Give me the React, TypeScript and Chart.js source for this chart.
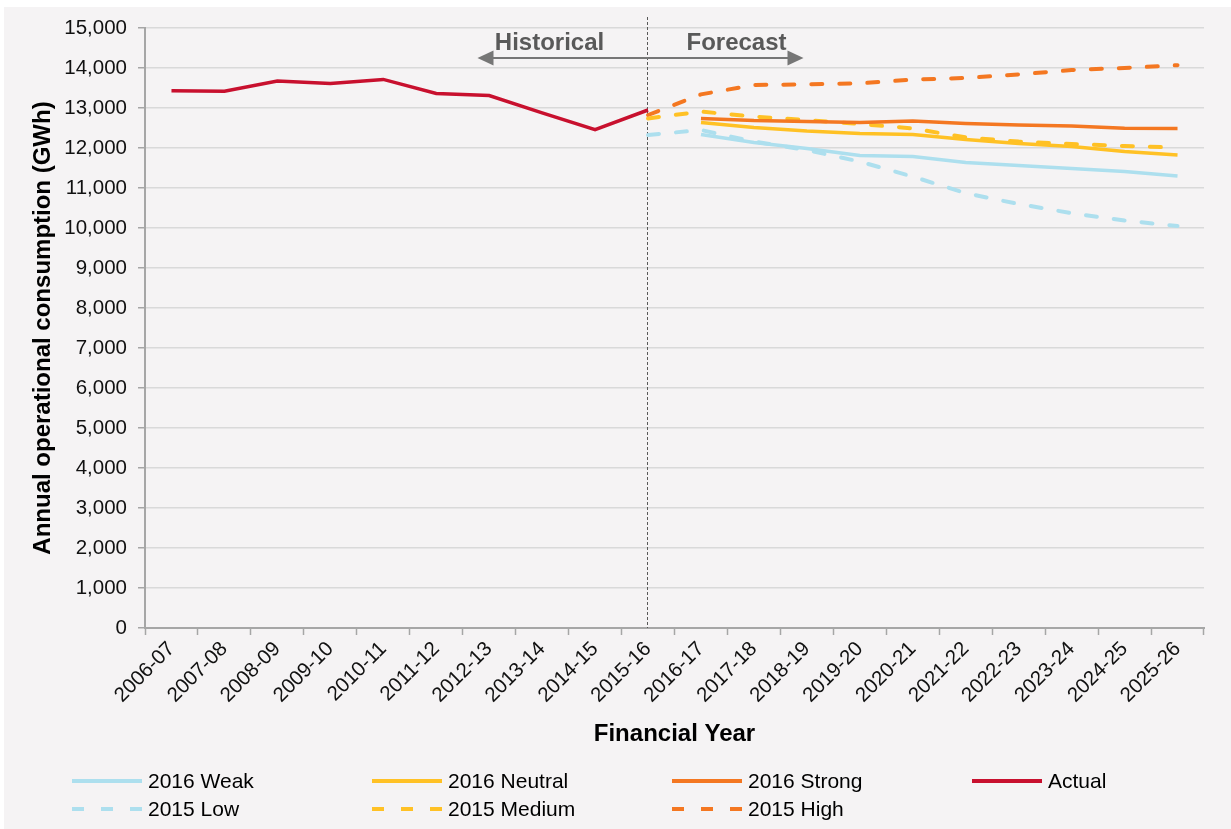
import React, { useEffect, useRef } from "react";
import { Chart, registerables } from "chart.js";

Chart.register(...registerables);

const years = [
  "2006-07", "2007-08", "2008-09", "2009-10", "2010-11", "2011-12", "2012-13",
  "2013-14", "2014-15", "2015-16", "2016-17", "2017-18", "2018-19", "2019-20",
  "2020-21", "2021-22", "2022-23", "2023-24", "2024-25", "2025-26",
];

// Actual: 2006-07 .. 2015-16
const actual = [13430, 13420, 13675, 13615, 13715, 13365, 13310, 12880, 12460, 12950];
// 2015 forecasts: 2015-16 .. 2025-26
const low2015 = [12325, 12450, 12160, 11950, 11660, 11285, 10870, 10600, 10370, 10185, 10050];
const medium2015 = [12740, 12910, 12785, 12700, 12600, 12490, 12265, 12160, 12100, 12050, 12010];
const high2015 = [12825, 13340, 13575, 13590, 13615, 13710, 13750, 13840, 13950, 14000, 14070];
// 2016 forecasts: 2016-17 .. 2025-26
const weak2016 = [12340, 12135, 11990, 11810, 11785, 11640, 11560, 11490, 11410, 11300];
const neutral2016 = [12635, 12515, 12425, 12365, 12340, 12215, 12115, 12035, 11910, 11825];
const strong2016 = [12740, 12685, 12660, 12640, 12675, 12615, 12575, 12550, 12495, 12490];

const BLUE = "#ADDFEE";
const YELLOW = "#FFC125";
const ORANGE = "#F47721";
const RED = "#C8102E";
const DASH = [11, 17];

function placeAt(start: number, values: number[]): (number | null)[] {
  const out: (number | null)[] = years.map(() => null);
  values.forEach((v, i) => (out[start + i] = v));
  return out;
}

const FONT = "'Liberation Sans', Arial, sans-serif";

const decorPlugin = {
  id: "decor",
  beforeDraw(chart: any) {
    const { ctx, width, height } = chart;
    ctx.save();
    ctx.fillStyle = "#FFFFFF";
    ctx.fillRect(0, 0, width, height);
    ctx.fillStyle = "#F5F3F4";
    ctx.fillRect(4, 7, width - 4, height - 7);
    ctx.restore();
  },
  beforeDatasetsDraw(chart: any) {
    const { ctx, chartArea, scales } = chart;
    const vx = Math.round(scales.x.getPixelForValue(9)) - 0.5;
    ctx.save();
    // vertical dashed divider
    ctx.strokeStyle = "#595959";
    ctx.lineWidth = 1;
    ctx.setLineDash([3, 2]);
    ctx.beginPath();
    ctx.moveTo(vx, 17);
    ctx.lineTo(vx, chartArea.bottom);
    ctx.stroke();
    ctx.setLineDash([]);
    // double arrow
    const ay = 58;
    const lx = vx - 170;
    const rx = vx + 156;
    ctx.strokeStyle = "#767676";
    ctx.fillStyle = "#767676";
    ctx.lineWidth = 2;
    ctx.beginPath();
    ctx.moveTo(lx + 10, ay);
    ctx.lineTo(rx - 10, ay);
    ctx.stroke();
    ctx.beginPath();
    ctx.moveTo(lx, ay);
    ctx.lineTo(lx + 16, ay - 7.5);
    ctx.lineTo(lx + 16, ay + 7.5);
    ctx.closePath();
    ctx.fill();
    ctx.beginPath();
    ctx.moveTo(rx, ay);
    ctx.lineTo(rx - 16, ay - 7.5);
    ctx.lineTo(rx - 16, ay + 7.5);
    ctx.closePath();
    ctx.fill();
    // labels
    ctx.fillStyle = "#595959";
    ctx.font = `bold 24px ${FONT}`;
    ctx.textAlign = "center";
    ctx.textBaseline = "middle";
    ctx.fillText("Historical", vx - 98, 43);
    ctx.fillText("Forecast", vx + 89, 43);
    ctx.restore();
  },
  afterDraw(chart: any) {
    const { ctx } = chart;
    const datasets = chart.data.datasets;
    ctx.save();
    ctx.font = `21px ${FONT}`;
    ctx.textBaseline = "middle";
    ctx.textAlign = "left";
    datasets.forEach((ds: any, i: number) => {
      const col = i % 4;
      const row = Math.floor(i / 4);
      const x0 = 72 + col * 300;
      const y = 781 + row * 28;
      ctx.strokeStyle = ds.borderColor;
      ctx.lineWidth = 4;
      ctx.lineCap = "butt";
      ctx.setLineDash(ds.borderDash && ds.borderDash.length ? [12, 17] : []);
      ctx.beginPath();
      ctx.moveTo(x0, y);
      ctx.lineTo(x0 + 70, y);
      ctx.stroke();
      ctx.setLineDash([]);
      ctx.fillStyle = "#000000";
      ctx.fillText(ds.label, x0 + 76, y + 1);
    });
    ctx.restore();
  },
};

export default function App() {
  const ref = useRef<HTMLCanvasElement | null>(null);

  useEffect(() => {
    if (!ref.current) return;
    const common = {
      pointRadius: 0,
      pointHoverRadius: 0,
      borderWidth: 3.5,
      tension: 0,
      fill: false,
      spanGaps: false,
    };
    const dashed = {
      ...common,
      borderWidth: 4,
      borderDash: DASH,
      borderCapStyle: "round",
    };
    const chart = new Chart(ref.current, {
      type: "line",
      data: {
        labels: years,
        datasets: [
          { ...common, label: "2016 Weak", data: placeAt(10, weak2016), borderColor: BLUE, backgroundColor: BLUE, borderDash: [] },
          { ...common, label: "2016 Neutral", data: placeAt(10, neutral2016), borderColor: YELLOW, backgroundColor: YELLOW, borderDash: [] },
          { ...common, label: "2016 Strong", data: placeAt(10, strong2016), borderColor: ORANGE, backgroundColor: ORANGE, borderDash: [] },
          { ...common, label: "Actual", data: placeAt(0, actual), borderColor: RED, backgroundColor: RED, borderDash: [] },
          { ...dashed, label: "2015 Low", data: placeAt(9, low2015), borderColor: BLUE, backgroundColor: BLUE },
          { ...dashed, label: "2015 Medium", data: placeAt(9, medium2015), borderColor: YELLOW, backgroundColor: YELLOW },
          { ...dashed, label: "2015 High", data: placeAt(9, high2015), borderColor: ORANGE, backgroundColor: ORANGE },
        ],
      },
      options: {
        animation: false,
        responsive: false,
        maintainAspectRatio: false,
        layout: { padding: { left: 0, top: 28, right: 27, bottom: 71 } },
        plugins: {
          legend: { display: false },
          tooltip: { enabled: false },
        },
        scales: {
          x: {
            type: "category",
            offset: true,
            afterFit: (scale: any) => {
              scale.height = 130;
            },
            grid: {
              offset: true,
              drawOnChartArea: false,
              drawTicks: true,
              tickLength: 7,
              tickColor: "#A6A6A6",
              tickWidth: 1.5,
            },
            border: { display: true, color: "#A6A6A6", width: 2 },
            ticks: {
              autoSkip: false,
              minRotation: 45,
              maxRotation: 45,
              padding: 2,
              color: "#111111",
              font: { family: FONT, size: 20.5 },
            },
            title: {
              display: true,
              text: "Financial Year",
              color: "#000000",
              font: { family: FONT, size: 24, weight: "bold" },
              padding: { top: 0, bottom: 9 },
            },
          },
          y: {
            min: 0,
            max: 15000,
            afterFit: (scale: any) => {
              scale.width = 145;
            },
            grid: {
              color: "#D9D9D9",
              lineWidth: 1.5,
              drawTicks: true,
              tickLength: 7,
              tickColor: "#A6A6A6",
              tickWidth: 1.5,
            },
            border: { display: true, color: "#A6A6A6", width: 2 },
            ticks: {
              stepSize: 1000,
              padding: 11,
              color: "#111111",
              font: { family: FONT, size: 20.5 },
              callback: (v: any) => Number(v).toLocaleString("en-US"),
            },
            title: {
              display: true,
              text: "Annual operational consumption (GWh)",
              color: "#000000",
              font: { family: FONT, size: 24, weight: "bold" },
              padding: { top: 29, bottom: 0 },
            },
          },
        },
      },
      plugins: [decorPlugin],
    } as any);
    return () => chart.destroy();
  }, []);

  return (
    <div style={{ position: "fixed", left: 0, top: 0, width: 1231, height: 829 }}>
      <canvas ref={ref} width={1231} height={829} style={{ display: "block", width: 1231, height: 829 }} />
    </div>
  );
}
